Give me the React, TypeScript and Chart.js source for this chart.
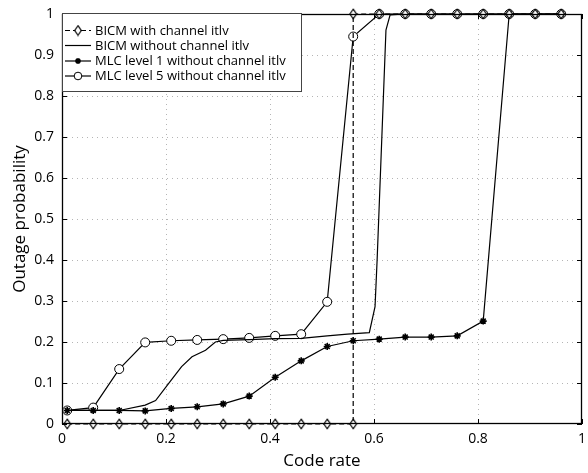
import React, { useEffect, useRef } from 'react';
import { Chart, registerables } from 'chart.js';

Chart.register(...registerables);

// ---- data ----
const rateGrid = [0.01, 0.06, 0.11, 0.16, 0.21, 0.26, 0.31, 0.36, 0.41, 0.46, 0.51, 0.56, 0.61, 0.66, 0.71, 0.76, 0.81, 0.86, 0.91, 0.96];

const bicmItlvRate = [0.01, 0.06, 0.11, 0.16, 0.21, 0.26, 0.31, 0.36, 0.41, 0.46, 0.51, 0.56, 0.56, 0.61, 0.66, 0.71, 0.76, 0.81, 0.86, 0.91, 0.96];
const bicmItlvOutage = [0, 0, 0, 0, 0, 0, 0, 0, 0, 0, 0, 0, 1, 1, 1, 1, 1, 1, 1, 1, 1];

const bicmNoItlvRate = [0.01, 0.06, 0.11, 0.16, 0.18, 0.21, 0.23, 0.25, 0.276, 0.295, 0.31, 0.36, 0.41, 0.46, 0.51, 0.549, 0.591, 0.602, 0.606, 0.623, 0.631, 0.66, 0.71, 0.76, 0.81, 0.86, 0.91, 0.96];
const bicmNoItlvOutage = [0.033, 0.033, 0.033, 0.046, 0.057, 0.107, 0.14, 0.164, 0.18, 0.2, 0.204, 0.206, 0.208, 0.209, 0.215, 0.219, 0.223, 0.286, 0.4, 0.961, 0.998, 1, 1, 1, 1, 1, 1, 1];

const mlc1Outage = [0.033, 0.033, 0.033, 0.032, 0.038, 0.042, 0.049, 0.068, 0.114, 0.154, 0.189, 0.203, 0.207, 0.212, 0.212, 0.215, 0.251, 1, 1, 1];
const mlc5Outage = [0.033, 0.04, 0.134, 0.199, 0.203, 0.205, 0.207, 0.21, 0.215, 0.219, 0.298, 0.945, 1, 1, 1, 1, 1, 1, 1, 1];

const seriesLabels = [
  'BICM with channel itlv',
  'BICM without channel itlv',
  'MLC level 1 without channel itlv',
  'MLC level 5 without channel itlv',
];

const xTicks = [0, 0.2, 0.4, 0.6, 0.8, 1];
const yTicks = [0, 0.1, 0.2, 0.3, 0.4, 0.5, 0.6, 0.7, 0.8, 0.9, 1];

const xTitle = 'Code rate';
const yTitle = 'Outage probability';

const FONT = "'Open Sans', 'DejaVu Sans', sans-serif";

function pts(xs: number[], ys: number[]) {
  return xs.map((x, i) => ({ x, y: ys[i] }));
}

function makeDiamond(): HTMLCanvasElement {
  const c = document.createElement('canvas');
  c.width = 10;
  c.height = 12;
  const g = c.getContext('2d')!;
  g.beginPath();
  g.moveTo(5, 1.2);
  g.lineTo(8.3, 6);
  g.lineTo(5, 10.8);
  g.lineTo(1.7, 6);
  g.closePath();
  g.fillStyle = '#fff';
  g.fill();
  g.strokeStyle = '#000';
  g.lineWidth = 1.2;
  g.stroke();
  return c;
}

function drawMarker(ctx: CanvasRenderingContext2D, style: any, x: number, y: number, r: number) {
  ctx.save();
  ctx.setLineDash([]);
  ctx.strokeStyle = '#000';
  ctx.lineWidth = 1;
  ctx.beginPath();
  if (style instanceof HTMLCanvasElement) {
    ctx.drawImage(style, x - style.width / 2, y - style.height / 2);
  } else if (style === 'circle') {
    ctx.arc(x, y, r, 0, Math.PI * 2);
    ctx.fillStyle = '#fff';
    ctx.fill();
    ctx.stroke();
  } else if (style === 'star') {
    ctx.lineWidth = 1.5;
    for (let k = 0; k < 4; k++) {
      const a = (k * Math.PI) / 4;
      ctx.moveTo(x - Math.cos(a) * r, y - Math.sin(a) * r);
      ctx.lineTo(x + Math.cos(a) * r, y + Math.sin(a) * r);
    }
    ctx.stroke();
  }
  ctx.restore();
}

const framePlugin = {
  id: 'matlabFrame',
  beforeDatasetsDraw(chart: any) {
    const { ctx, chartArea: a, scales } = chart;
    const xs = scales.x;
    const ys = scales.y;
    ctx.save();
    ctx.strokeStyle = '#b5b5b5';
    ctx.lineWidth = 1;
    ctx.setLineDash([1, 4]);
    xTicks.forEach((v) => {
      if (v === 0 || v === 1) return;
      const px = Math.round(xs.getPixelForValue(v)) + 0.5;
      ctx.beginPath();
      ctx.moveTo(px, a.top);
      ctx.lineTo(px, a.bottom);
      ctx.stroke();
    });
    yTicks.forEach((v) => {
      if (v === 0 || v === 1) return;
      const py = Math.round(ys.getPixelForValue(v)) + 0.5;
      ctx.beginPath();
      ctx.moveTo(a.left, py);
      ctx.lineTo(a.right, py);
      ctx.stroke();
    });
    ctx.restore();
  },
  afterDraw(chart: any) {
    const { ctx, chartArea: a, scales } = chart;
    const xs = scales.x;
    const ys = scales.y;
    ctx.save();
    ctx.setLineDash([]);
    ctx.strokeStyle = '#000';
    ctx.lineWidth = 1.3;
    ctx.strokeRect(a.left + 0.5, a.top + 0.5, a.right - a.left - 1, a.bottom - a.top - 1);
    ctx.lineWidth = 1;
    const tl = 5;
    xTicks.forEach((v) => {
      const px = Math.round(xs.getPixelForValue(v)) + 0.5;
      ctx.beginPath();
      ctx.moveTo(px, a.bottom);
      ctx.lineTo(px, a.bottom - tl);
      ctx.moveTo(px, a.top);
      ctx.lineTo(px, a.top + tl);
      ctx.stroke();
    });
    yTicks.forEach((v) => {
      const py = Math.round(ys.getPixelForValue(v)) + 0.5;
      ctx.beginPath();
      ctx.moveTo(a.left, py);
      ctx.lineTo(a.left + tl, py);
      ctx.moveTo(a.right, py);
      ctx.lineTo(a.right - tl, py);
      ctx.stroke();
    });

    // legend
    const bx = a.left + 0.5;
    const by = a.top - 0.5;
    const bw = 239;
    const bh = 78;
    ctx.fillStyle = '#fff';
    ctx.fillRect(bx, by, bw, bh);
    ctx.strokeStyle = '#444';
    ctx.lineWidth = 1;
    ctx.strokeRect(bx, by, bw, bh);
    const rows = [16.5, 31.5, 47, 62];
    ctx.font = `13px ${FONT}`;
    ctx.textBaseline = 'middle';
    ctx.textAlign = 'left';
    chart.data.datasets.forEach((ds: any, i: number) => {
      const ry = a.top + rows[i];
      ctx.save();
      ctx.strokeStyle = '#000';
      ctx.lineWidth = 1.2;
      ctx.setLineDash(ds.borderDash || []);
      ctx.beginPath();
      ctx.moveTo(a.left + 3, ry);
      ctx.lineTo(a.left + 29, ry);
      ctx.stroke();
      ctx.restore();
      if (ds.pointRadius > 0) drawMarker(ctx, ds.pointStyle, a.left + 16, ry, ds.pointRadius * 0.85);
      ctx.fillStyle = '#000';
      ctx.fillText(ds.label, a.left + 33, ry + 0.5);
    });
    ctx.restore();
  },
};

export default function App() {
  const ref = useRef<HTMLCanvasElement | null>(null);

  useEffect(() => {
    if (!ref.current) return;
    const diamond = makeDiamond();
    const chart = new Chart(ref.current, {
      type: 'line',
      data: {
        datasets: [
          {
            label: seriesLabels[0],
            data: pts(bicmItlvRate, bicmItlvOutage),
            borderColor: '#000',
            borderWidth: 1.2,
            borderDash: [5, 3],
            pointStyle: diamond,
            pointRadius: 5,
            pointBorderWidth: 1,
            pointBackgroundColor: '#fff',
            pointBorderColor: '#000',
            clip: false,
          },
          {
            label: seriesLabels[1],
            data: pts(bicmNoItlvRate, bicmNoItlvOutage),
            borderColor: '#000',
            borderWidth: 1.2,
            pointRadius: 0,
            clip: false,
          },
          {
            label: seriesLabels[2],
            data: pts(rateGrid, mlc1Outage),
            borderColor: '#000',
            borderWidth: 1.2,
            pointStyle: 'star',
            pointRadius: 3.5,
            pointBorderWidth: 1.6,
            pointBackgroundColor: '#000',
            pointBorderColor: '#000',
            clip: false,
          },
          {
            label: seriesLabels[3],
            data: pts(rateGrid, mlc5Outage),
            borderColor: '#000',
            borderWidth: 1.2,
            pointStyle: 'circle',
            pointRadius: 4.5,
            pointBorderWidth: 1,
            pointBackgroundColor: '#fff',
            pointBorderColor: '#000',
            clip: false,
          },
        ] as any,
      },
      options: {
        animation: false,
        responsive: false,
        maintainAspectRatio: false,
        layout: { padding: { top: 14, right: 1, left: 0, bottom: 0 } },
        plugins: {
          legend: { display: false },
          tooltip: { enabled: false },
        },
        elements: { line: { tension: 0 } },
        scales: {
          x: {
            type: 'linear',
            min: 0,
            max: 1,
            afterBuildTicks: (s: any) => {
              s.ticks = xTicks.map((v) => ({ value: v }));
            },
            ticks: {
              color: '#000',
              font: { family: FONT, size: 14 },
              padding: 7,
              maxRotation: 0,
              callback: (v: any) => String(Number(v)),
            },
            grid: { display: false, drawTicks: false },
            border: { display: false },
            title: {
              display: true,
              text: xTitle,
              color: '#000',
              font: { family: FONT, size: 17 },
              padding: { top: 0, bottom: 2 },
            },
            afterFit: (s: any) => {
              s.height = 49;
              s.paddingLeft = 0;
              s.paddingRight = 0;
            },
          },
          y: {
            type: 'linear',
            min: 0,
            max: 1,
            afterBuildTicks: (s: any) => {
              s.ticks = yTicks.map((v) => ({ value: v }));
            },
            ticks: {
              color: '#000',
              font: { family: FONT, size: 14 },
              padding: 8,
              callback: (v: any) => String(Number(v)),
            },
            grid: { display: false, drawTicks: false },
            border: { display: false },
            title: {
              display: true,
              text: yTitle,
              color: '#000',
              font: { family: FONT, size: 17 },
              padding: { top: 10, bottom: 0 },
            },
            afterFit: (s: any) => {
              s.width = 62;
              s.paddingTop = 0;
              s.paddingBottom = 0;
            },
          },
        },
      } as any,
      plugins: [framePlugin as any],
    });
    return () => chart.destroy();
  }, []);

  return (
    <div style={{ position: 'absolute', left: 0, top: 0, width: 588, height: 473, background: '#fff' }}>
      <canvas ref={ref} width={588} height={473} style={{ display: 'block', width: 588, height: 473 }} />
    </div>
  );
}
